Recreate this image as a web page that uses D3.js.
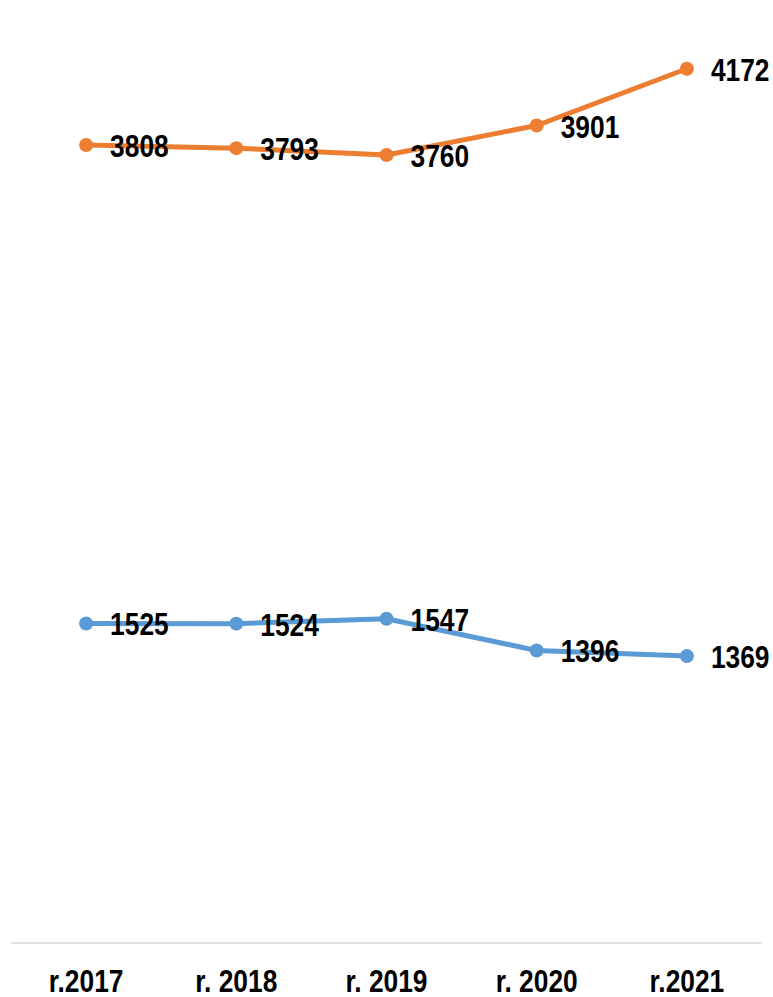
<!DOCTYPE html>
<html>
<head>
<meta charset="utf-8">
<script src="https://cdn.jsdelivr.net/npm/d3@7"></script>
<style>
  body { margin: 0; background: #fff; }
  text { font-family: "Liberation Sans Narrow", "Arial Narrow", "Liberation Sans", Arial, sans-serif; font-weight: bold; fill: #000; }
</style>
</head>
<body>
<script>
(function all(){
  // data
  var years = ["r.2017", "r. 2018", "r. 2019", "r. 2020", "r.2021"];
  var upperSeries = [3808, 3793, 3760, 3901, 4172];
  var lowerSeries = [1525, 1524, 1547, 1396, 1369];
  var yMax = 4500;

  var width = 773, height = 997;
  var fontSize = 31;
  var squeeze = 0.85; //no narrow font installed, so condense horizontally

  var svg = d3.select("body").append("svg")
    .attr("width", width)
    .attr("height", height);

  // band scale for categories, linear for values
  var x = d3.scaleBand()
    .domain(years)
    .range([11, 762]);
  var y = d3.scaleLinear()
    .domain([0, yMax])
    .range([943, 0]);

  function cx(i){ return x(years[i]) + x.bandwidth() / 2; }

  // bottom axis line
  svg.append("line")
    .attr("x1", x.range()[0]).attr("x2", x.range()[1])
    .attr("y1", y(0)).attr("y2", y(0))
    .attr("stroke", "#d9d9d9")
    .attr("stroke-width", 1.5);

  // category labels
  svg.selectAll(".xlabel")
    .data(years)
    .enter()
    .append("text")
    .attr("class", "xlabel")
    .attr("transform", function(d, i){
      return "translate(" + cx(i) + ",992) scale(" + squeeze + ",1)";
    })
    .attr("text-anchor", "middle")
    .style("font-size", fontSize + "px")
    .text(function(d){ return d; });

  var line = d3.line()
    .x(function(d, i){ return cx(i); })
    .y(function(d){ return y(d); });

  function drawSeries(values, color){
    var g = svg.append("g");
    g.append("path")
      .datum(values)
      .attr("d", line)
      .attr("fill", "none")
      .attr("stroke", color)
      .attr("stroke-width", 5)
      .attr("stroke-linejoin", "round")
      .attr("stroke-linecap", "round");
    g.selectAll("circle")
      .data(values)
      .enter()
      .append("circle")
      .attr("cx", function(d, i){ return cx(i); })
      .attr("cy", function(d){ return y(d); })
      .attr("r", 7)
      .attr("fill", color);
    // value labels to the right of each point
    g.selectAll("text")
      .data(values)
      .enter()
      .append("text")
      .attr("transform", function(d, i){
        return "translate(" + (cx(i) + 24) + "," + (y(d) + 12) + ") scale(" + squeeze + ",1)";
      })
      .style("font-size", fontSize + "px")
      .text(function(d){ return d; });
  }

  drawSeries(upperSeries, "#ed7d31");
  drawSeries(lowerSeries, "#5b9bd5");
})();
</script>
</body>
</html>
